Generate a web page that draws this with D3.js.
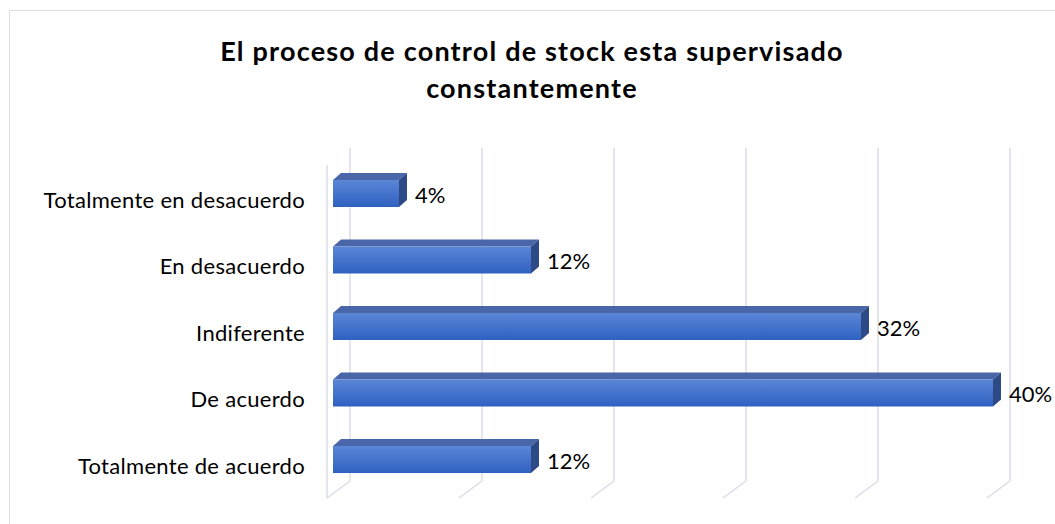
<!DOCTYPE html>
<html>
<head>
<meta charset="utf-8">
<script src="https://cdn.jsdelivr.net/npm/d3@7"></script>
<style>
html,body{margin:0;padding:0;background:#fff;}
svg{display:block;}
</style>
</head>
<body>
<svg id="chart" width="1055" height="524"></svg>
<script>
const categories = ["Totalmente en desacuerdo","En desacuerdo","Indiferente","De acuerdo","Totalmente de acuerdo"];
const values = [4, 12, 32, 40, 12];
const valueLabels = ["4%","12%","32%","40%","12%"];
const tickValues = [0, 8, 16, 24, 32, 40];
const titleLines = ["El proceso de control de stock esta supervisado","constantemente"];

const svg = d3.select("#chart");
const font = "Lato, 'Open Sans', sans-serif";

// chart area border
svg.append("rect").attr("x",9.5).attr("y",10.5).attr("width",1060).attr("height",530)
  .attr("fill","#fff").attr("stroke","#dde0e8").attr("stroke-width",1);

const x = d3.scaleLinear().domain([0,40]).range([333, 993]);
const y = d3.scaleBand().domain(categories).range([160.25, 492.75]);

// 3D geometry (styles)
const backDx = 17;          // back wall offset from bar front
const floorDx = -6;         // floor front edge offset from bar front
const gridTop = 148, backBottom = 481, floorFront = 498;
const depthX = 8, depthY = 7, barH = 27;

const defs = svg.append("defs");
const g1 = defs.append("linearGradient").attr("id","barGrad").attr("x1",0).attr("y1",0).attr("x2",0).attr("y2",1);
g1.append("stop").attr("offset","0%").attr("stop-color","#5b86d6");
g1.append("stop").attr("offset","100%").attr("stop-color","#2f61c2");

// gridlines: back wall verticals + floor diagonals
const grid = svg.append("g").attr("stroke","#d9dce7").attr("stroke-width",1.4).attr("fill","none");
grid.selectAll("path.g").data(tickValues).join("path").attr("class","g")
  .attr("d", t => `M${x(t)+backDx},${gridTop} L${x(t)+backDx},${backBottom} L${x(t)+floorDx},${floorFront}`);
// left wall front edge
grid.append("line").attr("x1", x(0)+floorDx).attr("x2", x(0)+floorDx)
  .attr("y1", gridTop+17).attr("y2", floorFront);

// bars
const bars = svg.append("g").selectAll("g.bar").data(categories).join("g").attr("class","bar");
bars.each(function(c, i){
  const gsel = d3.select(this);
  const cy = y(c) + y.bandwidth()/2;
  const y0 = cy - barH/2;
  const x0 = x(0), x1 = x(values[i]);
  // top face
  gsel.append("path")
    .attr("d", `M${x0},${y0} L${x0+depthX},${y0-depthY} L${x1+depthX},${y0-depthY} L${x1},${y0} Z`)
    .attr("fill","#4866a8");
  // side face
  gsel.append("path")
    .attr("d", `M${x1},${y0} L${x1+depthX},${y0-depthY} L${x1+depthX},${y0+barH-depthY} L${x1},${y0+barH} Z`)
    .attr("fill","#2d4a86");
  // front face
  gsel.append("rect").attr("x", x0).attr("y", y0).attr("width", x1-x0).attr("height", barH)
    .attr("fill","url(#barGrad)");
  // value label
  gsel.append("text").attr("x", x1+16).attr("y", cy+9)
    .attr("font-family", font).attr("font-size", 22).attr("fill","#000")
    .text(valueLabels[i]);
  // category label
  gsel.append("text").attr("x", 305).attr("y", cy+14).attr("text-anchor","end")
    .attr("font-family", font).attr("font-size", 22).attr("letter-spacing", 0.3).attr("fill","#000")
    .text(c);
});

// title
svg.append("g").selectAll("text").data(titleLines).join("text")
  .attr("x", 532).attr("y", (d,i) => 61 + i*37).attr("text-anchor","middle")
  .attr("font-family", font).attr("font-weight","bold").attr("font-size", 27)
  .attr("letter-spacing", 1.2).attr("fill","#000")
  .text(d => d);
</script>
</body>
</html>
